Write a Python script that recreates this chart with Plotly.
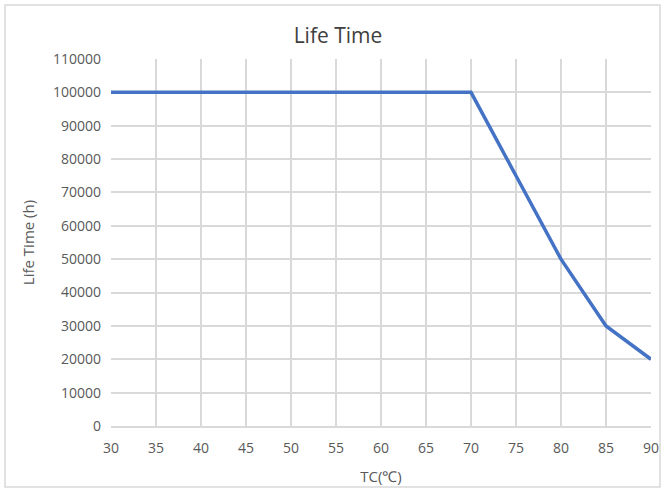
import plotly.graph_objects as go

temps = [30, 35, 40, 45, 50, 55, 60, 65, 70, 75, 80, 85, 90]
life_hours = [100000, 100000, 100000, 100000, 100000, 100000, 100000, 100000, 100000, 75000, 50000, 30000, 20000]
x_ticks = [30, 35, 40, 45, 50, 55, 60, 65, 70, 75, 80, 85, 90]
y_ticks = [0, 10000, 20000, 30000, 40000, 50000, 60000, 70000, 80000, 90000, 100000, 110000]
y_tick_text = [str(v) for v in y_ticks]

W, H = 665, 492
L, R, T, B = 111, 651, 59, 426

fig = go.Figure()
fig.add_trace(go.Scatter(x=temps, y=life_hours, mode="lines",
                         line=dict(color="#4472C4", width=3.5), showlegend=False))

font = dict(family="Open Sans, Liberation Sans, sans-serif", size=14, color="#595959")

fig.update_layout(
    width=W, height=H,
    margin=dict(l=L, r=W - R, t=T, b=H - B, autoexpand=False),
    paper_bgcolor="white", plot_bgcolor="white",
    font=font,
    title=dict(text="Life Time", x=(338 - L) / (R - L), xref="paper", xanchor="center",
               y=1 - 36 / H, yanchor="middle",
               font=dict(family="Open Sans, Liberation Sans, sans-serif", size=21, color="#404040")),
    xaxis=dict(range=[30, 90], tickvals=x_ticks, showgrid=True, gridcolor="#D9D9D9", gridwidth=1.5,
               zeroline=False, showline=True, linecolor="#D9D9D9", linewidth=1.5,
               ticks="", ticklen=0, ticklabelstandoff=8, automargin=False,
               title=dict(text="TC(℃)", standoff=16, font=dict(size=15, color="#595959"))),
    yaxis=dict(range=[0, 110000], tickvals=y_ticks, ticktext=y_tick_text,
               showgrid=True, gridcolor="#D9D9D9", gridwidth=1.5, automargin=False,
               zeroline=False, showline=False, ticks="", ticklen=0, ticklabelstandoff=9,
               title=dict(text="Life Time (h)", standoff=14, font=dict(size=15, color="#595959"))),
)

fig.add_shape(type="rect", xref="paper", yref="paper",
              x0=(5 - L) / (R - L), x1=(660 - L) / (R - L),
              y0=(B - 487) / (B - T), y1=(B - 5) / (B - T),
              line=dict(color="#D9D9D9", width=1.5), fillcolor="rgba(0,0,0,0)", layer="below")

fig.write_html("out.html", config={"displayModeBar": False},
               post_script="document.body.style.margin='0';document.body.style.overflow='hidden';")
